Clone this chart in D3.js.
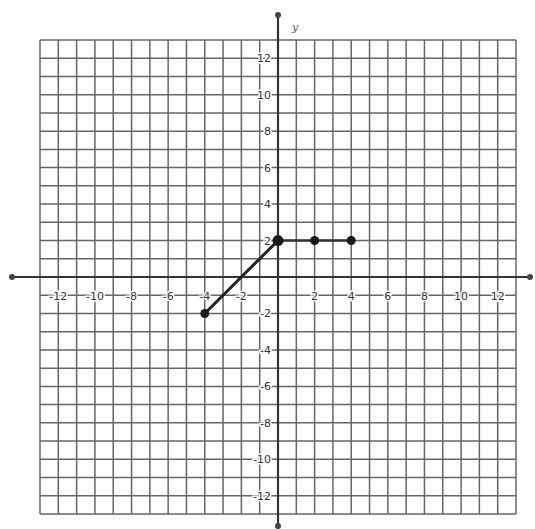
<!DOCTYPE html>
<html>
<head>
<meta charset="utf-8">
<script src="https://cdn.jsdelivr.net/npm/d3@7"></script>
<style>
  body { margin: 0; background: #fff; }
  svg { display: block; }
</style>
</head>
<body>
<div class="chart"></div>
<script>
const width = 535;
const height = 529;

// graph-paper range and labelled ticks
const gridMin = -13;
const gridMax = 13;
const xTickValues = [-12, -10, -8, -6, -4, -2, 2, 4, 6, 8, 10, 12];
const yTickValues = [12, 10, 8, 6, 4, 2, -2, -4, -6, -8, -10, -12];

// plotted piecewise graph
const slantX = [-4, 0];
const slantY = [-2, 2];
const flatX = [0, 2, 4];
const flatY = [2, 2, 2];
const dotX = [-4, 0, 2, 4];
const dotY = [-2, 2, 2, 2];

const x = d3.scaleLinear().domain([gridMin, gridMax]).range([40, 516]);
const y = d3.scaleLinear().domain([gridMin, gridMax]).range([514, 40]);

const svg = d3.select('.chart').append('svg')
  .attr('width', width)
  .attr('height', height);

const gridLines = d3.range(gridMin, gridMax + 1);

// graph paper
svg.append('g').selectAll('line.v').data(gridLines)
  .enter().append('line')
    .attr('x1', d => x(d)).attr('x2', d => x(d))
    .attr('y1', y(gridMax)).attr('y2', y(gridMin))
    .attr('stroke', '#666').attr('stroke-width', 1.5);

svg.append('g').selectAll('line.h').data(gridLines)
  .enter().append('line')
    .attr('y1', d => y(d)).attr('y2', d => y(d))
    .attr('x1', x(gridMin)).attr('x2', x(gridMax))
    .attr('stroke', '#666').attr('stroke-width', 1.5);

// axes
svg.append('line')
  .attr('x1', 12).attr('x2', 530)
  .attr('y1', y(0)).attr('y2', y(0))
  .attr('stroke', '#333').attr('stroke-width', 2.2);
svg.append('line')
  .attr('x1', x(0)).attr('x2', x(0))
  .attr('y1', 15).attr('y2', 529)
  .attr('stroke', '#333').attr('stroke-width', 2.2);

// arrow ends
const arrows = [
  [12, y(0)], [530, y(0)], [x(0), 15], [x(0), 526]
];
svg.append('g').selectAll('circle').data(arrows)
  .enter().append('circle')
    .attr('cx', d => d[0]).attr('cy', d => d[1])
    .attr('r', 3).attr('fill', '#444');

svg.append('text')
  .attr('x', x(0) + 14).attr('y', 31)
  .attr('font-family', 'DejaVu Serif').attr('font-style', 'italic')
  .attr('font-size', 11).attr('fill', '#555')
  .text('y');

// tick labels, with a white halo like the paper behind printed numbers
const label = sel => sel
  .attr('font-family', 'DejaVu Sans').attr('font-size', 11)
  .attr('fill', '#333')
  .attr('stroke', '#fff').attr('stroke-width', 3)
  .attr('paint-order', 'stroke');

svg.append('g').selectAll('text').data(xTickValues)
  .enter().append('text')
    .attr('x', d => x(d)).attr('y', y(0) + 23)
    .attr('text-anchor', 'middle')
    .call(label)
    .text(d => d);

svg.append('g').selectAll('text').data(yTickValues)
  .enter().append('text')
    .attr('x', x(0) - 7).attr('y', d => y(d) + 4)
    .attr('text-anchor', 'end')
    .call(label)
    .text(d => d);

// the graph
const pts = (xs, ys) => xs.map((v, i) => [v, ys[i]]);
const path = d3.line().x(d => x(d[0])).y(d => y(d[1]));

svg.append('path').datum(pts(slantX, slantY))
  .attr('d', path).attr('fill', 'none')
  .attr('stroke', '#222').attr('stroke-width', 3);

svg.append('path').datum(pts(flatX, flatY))
  .attr('d', path).attr('fill', 'none')
  .attr('stroke', '#333').attr('stroke-width', 2.5);

svg.append('g').selectAll('circle').data(pts(dotX, dotY))
  .enter().append('circle')
    .attr('cx', d => x(d[0])).attr('cy', d => y(d[1]))
    .attr('r', (d, i) => i === 1 ? 5.5 : 4.5)
    .attr('fill', '#1a1a1a');
</script>
</body>
</html>
